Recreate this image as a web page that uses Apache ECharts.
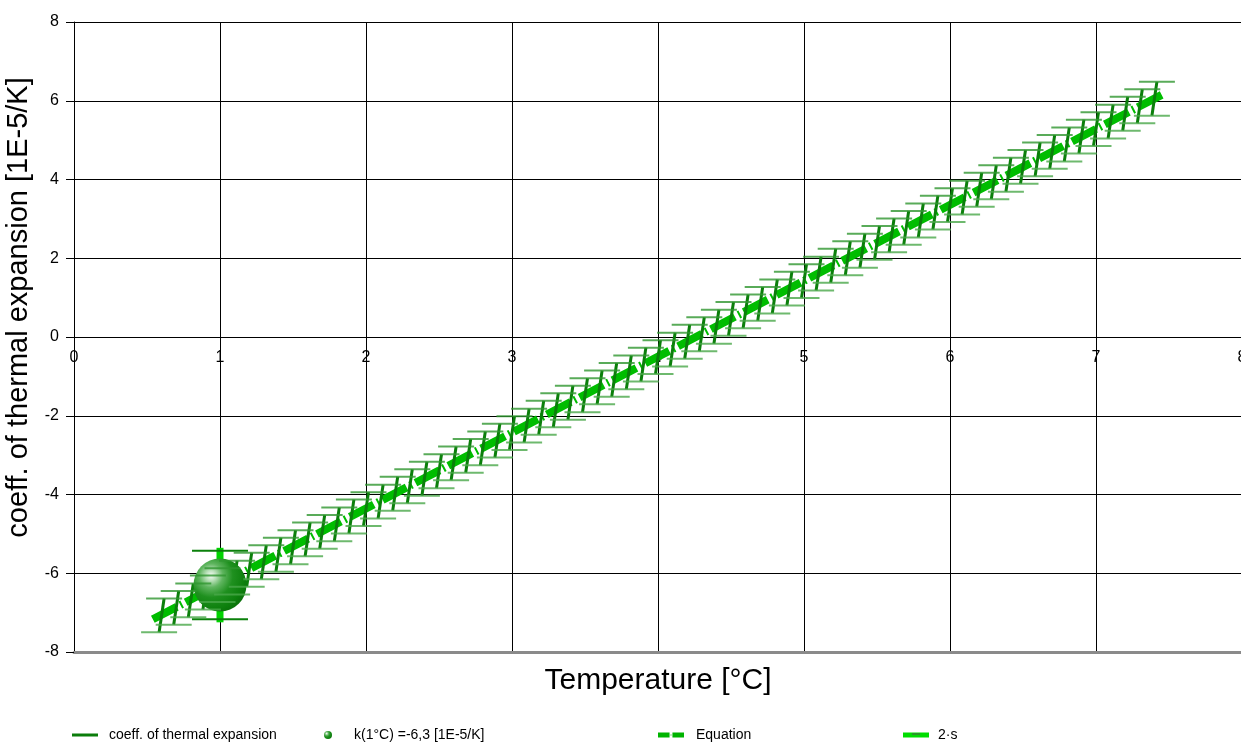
<!DOCTYPE html>
<html><head><meta charset="utf-8">
<script src="https://cdn.jsdelivr.net/npm/echarts@6/dist/echarts.min.js"></script>
<style>html,body{margin:0;padding:0;background:#fff}#c{width:1241px;height:747px}</style>
</head><body><div id="c"></div>
<script>
// ---- data ----
const temps = [0.6,0.7,0.8,0.9,1.0,1.1,1.2,1.3,1.4,1.5,1.6,1.7,1.8,1.9,2.0,2.1,2.2,2.3,2.4,2.5,2.6,2.7,2.8,2.9,3.0,3.1,3.2,3.3,3.4,3.5,3.6,3.7,3.8,3.9,4.0,4.1,4.2,4.3,4.4,4.5,4.6,4.7,4.8,4.9,5.0,5.1,5.2,5.3,5.4,5.5,5.6,5.7,5.8,5.9,6.0,6.1,6.2,6.3,6.4,6.5,6.6,6.7,6.8,6.9,7.0,7.1,7.2,7.3,7.4];
const coeffs = [-7.07,-6.88,-6.69,-6.49,-6.30,-6.11,-5.91,-5.72,-5.53,-5.34,-5.14,-4.95,-4.76,-4.56,-4.37,-4.18,-3.98,-3.79,-3.60,-3.41,-3.21,-3.02,-2.83,-2.63,-2.44,-2.25,-2.05,-1.86,-1.67,-1.48,-1.28,-1.09,-0.90,-0.70,-0.51,-0.32,-0.12,0.07,0.26,0.46,0.65,0.84,1.03,1.23,1.42,1.61,1.81,2.00,2.19,2.39,2.58,2.77,2.96,3.16,3.35,3.54,3.74,3.93,4.12,4.32,4.51,4.70,4.89,5.09,5.28,5.47,5.67,5.86,6.05];
const coeffHalfError = 0.43;
const kPointX = [1];
const kPointY = [-6.3];
const kTwoS = 0.87;
const equationX = [0.54, 7.45];
const equationY = [-7.17, 6.15];
const seriesNames = ['coeff. of thermal expansion', 'k(1°C) =-6,3 [1E-5/K]', 'Equation', '2·s'];
const xAxisName = 'Temperature [°C]';
const yAxisName = 'coeff. of thermal expansion [1E-5/K]';

// ---- chart ----
const FONT = '"Liberation Sans", Arial, sans-serif';
const chart = echarts.init(document.getElementById('c'), null, {renderer: 'canvas'});

const pts = temps.map((t, i) => [t, coeffs[i]]);

function renderBars(params, api) {
  const x = api.value(0), y = api.value(1);
  const top = api.coord([x, y + coeffHalfError]);
  const bot = api.coord([x, y - coeffHalfError]);
  return {type: 'line', shape: {x1: bot[0] - 2.5, y1: bot[1], x2: top[0] + 2.5, y2: top[1]},
    style: {stroke: '#0b7f0b', lineWidth: 3}};
}
function renderWhiskers(params, api) {
  const x = api.value(0), y = api.value(1);
  const top = api.coord([x, y + coeffHalfError]);
  const bot = api.coord([x, y - coeffHalfError]);
  const w = 18;
  return {type: 'group', children: [
    {type: 'line', shape: {x1: top[0] + 2.5 - w, y1: top[1], x2: top[0] + 2.5 + w, y2: top[1]},
      style: {stroke: '#2f962f', lineWidth: 2, opacity: 0.8}},
    {type: 'line', shape: {x1: bot[0] - 2.5 - w, y1: bot[1], x2: bot[0] - 2.5 + w, y2: bot[1]},
      style: {stroke: '#4aa84a', lineWidth: 2, opacity: 0.8}}
  ]};
}
function renderTwoS(params, api) {
  const x = api.value(0), y = api.value(1);
  const top = api.coord([x, y + kTwoS]);
  const bot = api.coord([x, y - kTwoS]);
  const w = 28;
  return {type: 'group', children: [
    {type: 'rect', shape: {x: top[0] - 3.5, y: top[1] - 3, width: 7, height: bot[1] - top[1] + 6},
      style: {fill: '#00d400'}},
    {type: 'line', shape: {x1: top[0] - w, y1: top[1], x2: top[0] + w, y2: top[1]},
      style: {stroke: '#0b800b', lineWidth: 2}},
    {type: 'line', shape: {x1: bot[0] - w, y1: bot[1], x2: bot[0] + w, y2: bot[1]},
      style: {stroke: '#0b800b', lineWidth: 2}}
  ]};
}

const sphereGrad = {type: 'radial', x: 0.33, y: 0.32, r: 0.75, colorStops: [
  {offset: 0, color: '#f4fbf4'}, {offset: 0.12, color: '#bfe3bf'}, {offset: 0.3, color: '#5fb55f'},
  {offset: 0.55, color: '#1f901f'}, {offset: 0.85, color: '#0d800d'}, {offset: 1, color: '#0a700a'}]};

function mkLegend(name, left, pad, extra) {
  return Object.assign({
    show: true, left: left, top: 720, orient: 'horizontal', selectedMode: false,
    itemWidth: 26, itemHeight: 4,
    textStyle: {fontFamily: FONT, fontSize: 14, color: '#000', padding: [0, 0, 0, pad], lineHeight: 20},
    data: [name]
  }, extra || {});
}

const GRID = {left: 74, width: 1168, top: 22, height: 630, containLabel: false, outerBoundsMode: 'none'};

chart.setOption({
  animation: false,
  backgroundColor: '#fff',
  grid: [Object.assign({}, GRID), Object.assign({}, GRID)],
  xAxis: [
    {type: 'value', gridIndex: 0, min: 0, max: 8, interval: 1, position: 'bottom', offset: -315,
      axisLine: {show: true, onZero: false, lineStyle: {color: '#000', width: 1}},
      axisTick: {show: false},
      axisLabel: {fontFamily: FONT, fontSize: 16, color: '#000', margin: 13},
      splitLine: {show: true, lineStyle: {color: '#000', width: 1}}},
    {type: 'value', gridIndex: 1, min: 0, max: 8, position: 'bottom',
      axisLine: {show: true, onZero: false, lineStyle: {color: '#8a8a8a', width: 3}},
      axisTick: {show: false}, axisLabel: {show: false}, splitLine: {show: false},
      name: xAxisName, nameLocation: 'middle', nameGap: 14,
      nameTextStyle: {fontFamily: FONT, fontSize: 30, color: '#000'}}
  ],
  yAxis: [
    {type: 'value', gridIndex: 0, min: -8, max: 8, interval: 2,
      axisLine: {show: true, onZero: false, lineStyle: {color: '#000', width: 1}},
      axisTick: {show: true, length: 8, lineStyle: {color: '#000', width: 1}},
      axisLabel: {fontFamily: FONT, fontSize: 16, color: '#000', margin: 15},
      splitLine: {show: true, lineStyle: {color: '#000', width: 1}},
      name: yAxisName, nameLocation: 'middle', nameGap: 37,
      nameTextStyle: {fontFamily: FONT, fontSize: 29, color: '#000', padding: [0, 0, 0, 59]}},
    {type: 'value', gridIndex: 1, min: -8, max: 8, show: false}
  ],
  legend: [
    mkLegend({name: seriesNames[0], icon: 'rect', itemStyle: {color: '#0b7d0b'}}, 67, 6, {itemHeight: 3}),
    mkLegend({name: seriesNames[1], icon: 'circle'}, 319, 8, {itemHeight: 8}),
    mkLegend({name: seriesNames[2], icon: 'path://M0,0H12V5H0Z M13,2H14V3H13Z M15,0H27V5H15Z', itemStyle: {color: '#00b400'}}, 653, 7, {itemHeight: 5}),
    mkLegend({name: seriesNames[3], icon: 'rect', itemStyle: {color: '#00dd00'}}, 898, 4, {itemHeight: 5})
  ],
  graphic: [
    {type: 'rect', left: 912, top: 733, shape: {width: 8, height: 2}, style: {fill: '#2a962a'}, z: 100}
  ],
  series: [
    {name: seriesNames[2], type: 'line', xAxisIndex: 0, yAxisIndex: 0, z: 1,
      data: equationX.map((x, i) => [x, equationY[i]]), showSymbol: false, symbol: 'none',
      color: '#00bd00',
      lineStyle: {color: '#00bd00', width: 8, type: [27, 4, 2, 4], cap: 'butt'}},
    {name: seriesNames[0], type: 'custom', xAxisIndex: 0, yAxisIndex: 0, z: 2,
      data: pts, encode: {x: 0, y: 1}, renderItem: renderBars, color: '#0b7d0b'},
    {name: seriesNames[3], type: 'custom', xAxisIndex: 0, yAxisIndex: 0, z: 3,
      data: kPointX.map((x, i) => [x, kPointY[i]]), encode: {x: 0, y: 1}, renderItem: renderTwoS, color: '#00dd00'},
    {name: seriesNames[1], type: 'scatter', xAxisIndex: 0, yAxisIndex: 0, z: 4,
      data: kPointX.map((x, i) => [x, kPointY[i]]), symbol: 'circle', symbolSize: 53,
      itemStyle: {color: sphereGrad, opacity: 1}},
    {name: seriesNames[0], type: 'custom', xAxisIndex: 0, yAxisIndex: 0, z: 5,
      data: pts, encode: {x: 0, y: 1}, renderItem: renderWhiskers, color: '#0b7d0b'}
  ]
});
</script></body></html>
